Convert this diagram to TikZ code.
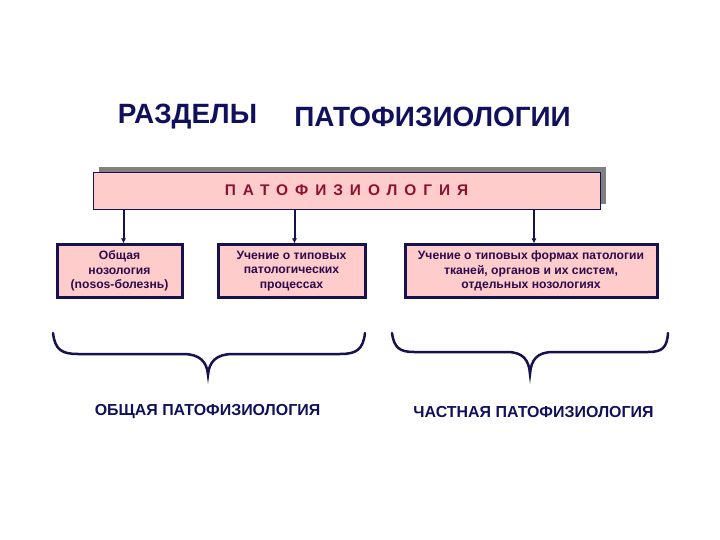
\documentclass[tikz,border=0pt]{standalone}
\usepackage{fontspec}
\setmainfont{Liberation Sans}
\usepackage{xcolor}
\usetikzlibrary{positioning, calc, arrows.meta, shadows}

\definecolor{navyline}{HTML}{16114F}
\definecolor{titlecol}{HTML}{10105C}
\definecolor{pinkfill}{HTML}{FFCCCC}
\definecolor{redtext}{HTML}{8C1030}
\definecolor{boxtext}{HTML}{2D0A4B}
\newfontfamily\spacedfont[LetterSpace=45]{Liberation Sans}

\begin{document}
\begin{tikzpicture}[
  x=1bp, y=-1bp,
  font=\bfseries,
  titletext/.style={text=titlecol, font=\fontsize{28}{32}\selectfont\bfseries},
  mainbox/.style={draw=navyline, line width=0.8bp, fill=pinkfill,
    minimum width=507bp, minimum height=37bp, inner sep=0pt,
    drop shadow={shadow xshift=6bp, shadow yshift=5bp, fill=gray, opacity=1}},
  subbox/.style={draw=navyline, line width=3bp, fill=pinkfill,
    minimum height=52bp, inner sep=0pt, align=center, text=boxtext,
    font=\fontsize{12.2}{14.5}\selectfont\bfseries},
  linkarrow/.style={draw=navyline, line width=2bp, -{Latex[length=5bp, width=5bp]}},
  bracepath/.style={draw=navyline, line width=2.5bp, line cap=round},
  groupname/.style={text=titlecol, font=\fontsize{16}{19}\selectfont\bfseries},
]

\useasboundingbox (0,0) rectangle (720,540);

% ---- 1. heading ----
\node[titletext] (headA) at (187.5,117) {РАЗДЕЛЫ};
\node[titletext] (headB) at (432.5,117) {ПАТОФИЗИОЛОГИИ};

% ---- 2. main box with shadow ----
\node[mainbox] (patho) at (346.5,190.5)
  {\spacedfont\fontsize{15.5}{18}\selectfont\bfseries\color{redtext}ПАТОФИЗИОЛОГИЯ};

% ---- 3. three section boxes ----
\node[subbox, minimum width=125bp] (nosology) at (119.5,271)
  {Общая\\нозология\\(nosos-болезнь)};
\node[subbox, minimum width=147bp] (processes) at (291.5,271)
  {Учение о типовых\\патологических\\процессах};
\node[subbox, minimum width=252bp] (forms) at (531,271)
  {Учение о типовых формах патологии\\тканей, органов и их систем,\\отдельных нозологиях};

% arrows down from the main box
\draw[linkarrow] ([xshift=4bp]nosology.north |- patho.south) -- ([xshift=4bp]nosology.north);
\draw[linkarrow] ([xshift=3bp]processes.north |- patho.south) -- ([xshift=3bp]processes.north);
\draw[linkarrow] ([xshift=3bp]forms.north |- patho.south) -- ([xshift=3bp]forms.north);

% ---- 4. braces ----
\draw[bracepath] (53,333) .. controls (55,350) and (62,354) .. (78,354)
  -- (183,354) .. controls (200,354) and (207,362) .. (208,375)
  .. controls (209,362) and (216,354) .. (233,354)
  -- (340,354) .. controls (356,354) and (363,350) .. (365,333);
\draw[bracepath] (392,333) .. controls (394,348) and (400,352) .. (414,352)
  -- (507,352) .. controls (523,352) and (529,360) .. (530,374)
  .. controls (531,360) and (537,352) .. (553,352)
  -- (648,352) .. controls (662,352) and (667,348) .. (668,333);

% ---- 5. group names ----
\node[groupname] (general) at (207.5,412) {ОБЩАЯ ПАТОФИЗИОЛОГИЯ};
\node[groupname] (special) at (533.5,412) {ЧАСТНАЯ ПАТОФИЗИОЛОГИЯ};

\end{tikzpicture}
\end{document}
